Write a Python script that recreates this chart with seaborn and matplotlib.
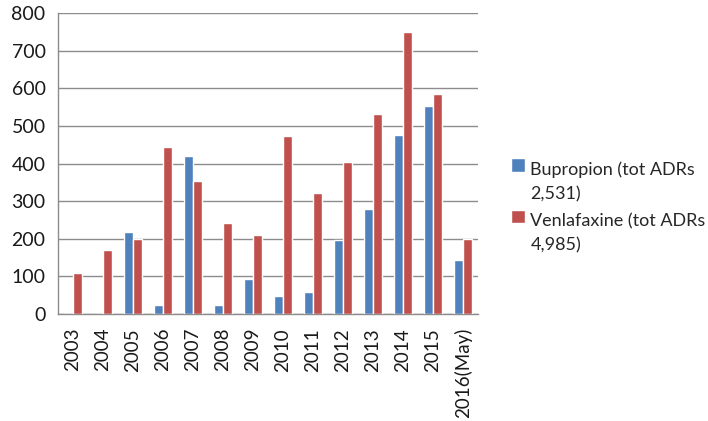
import matplotlib
matplotlib.use("Agg")
import matplotlib.pyplot as plt
import numpy as np
import pandas as pd
import seaborn as sns

years = ["2003", "2004", "2005", "2006", "2007", "2008", "2009", "2010",
         "2011", "2012", "2013", "2014", "2015", "2016(May)"]
bupropion = [0, 0, 218, 25, 421, 25, 94, 49, 59, 197, 278, 475, 553, 145]
venlafaxine = [110, 170, 200, 443, 353, 243, 210, 472, 321, 405, 531, 750, 585, 200]
series_names = ["Bupropion (tot ADRs\n2,531)", "Venlafaxine (tot ADRs\n4,985)"]
colors = ["#4F81BD", "#C0504D"]

df = pd.DataFrame({
    "year": years * 2,
    "value": bupropion + venlafaxine,
    "series": [series_names[0]] * len(years) + [series_names[1]] * len(years),
})

sns.set_style("white")
plt.rcParams["font.family"] = ["Lato", "DejaVu Sans"]

fig = plt.figure(figsize=(7.08, 4.21), dpi=100)
ax = fig.add_axes([0.082, 0.254, 0.593, 0.715])

sns.barplot(data=df, x="year", y="value", hue="series", palette=colors,
            width=0.58, gap=0, saturation=1, ax=ax, zorder=3)

ax.set_xlim(-0.5, len(years) - 0.5)
ax.set_ylim(0, 800)
ax.set_yticks(range(0, 801, 100))
ax.yaxis.grid(True, color="#8c8c8c", linewidth=1)
ax.set_axisbelow(True)
ax.set_xlabel("")
ax.set_ylabel("")

for s in ["top", "right"]:
    ax.spines[s].set_visible(False)
for s in ["left", "bottom"]:
    ax.spines[s].set_color("#8c8c8c")
    ax.spines[s].set_linewidth(1)

ax.tick_params(axis="x", which="major", length=0, labelsize=13.5,
               labelrotation=90, pad=10, colors="#1a1a1a")
ax.set_xticks(np.arange(-0.5, len(years)), minor=True)
ax.tick_params(axis="x", which="minor", length=6, color="#8c8c8c", width=1)
ax.tick_params(axis="y", length=6, color="#8c8c8c", width=1,
               labelsize=14, colors="#1a1a1a", pad=3)

handles, labels = ax.get_legend_handles_labels()
leg = ax.legend(handles, labels, loc="center left", bbox_to_anchor=(1.08, 0.41),
                frameon=False, fontsize=13, handlelength=0.75, handleheight=0.75,
                handletextpad=0.3, labelspacing=0.63, borderpad=0, borderaxespad=0)
for t in leg.get_texts():
    t.set_linespacing(1.6)
    t.set_verticalalignment("center")

fig.savefig("out.png", dpi=100)
